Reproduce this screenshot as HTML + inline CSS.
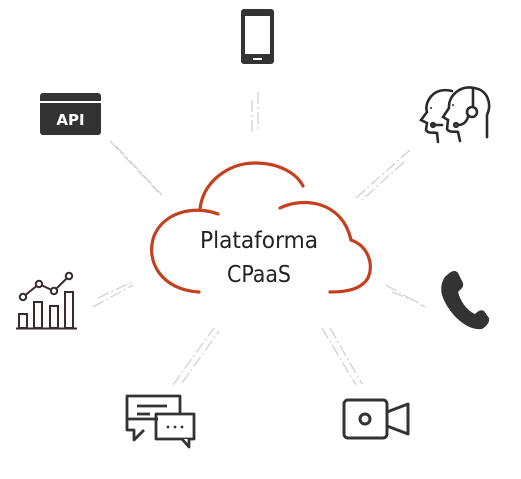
<!DOCTYPE html>
<html><head><meta charset="utf-8"><style>
html,body{margin:0;padding:0;background:#fff;}
svg{display:block;}
</style></head><body>
<svg width="521" height="479" viewBox="0 0 521 479" xmlns="http://www.w3.org/2000/svg">
<g stroke="#d2d2d2" stroke-width="1.3" fill="none" stroke-dasharray="12,3,2,3">
 <line x1="252" y1="100" x2="252" y2="135"/><line x1="258" y1="92" x2="258" y2="132"/>
 <line x1="110" y1="141" x2="158" y2="192"/><line x1="116" y1="146" x2="162" y2="195"/>
 <line x1="410" y1="150" x2="356" y2="198"/><line x1="404" y1="162" x2="362" y2="200"/>
 <line x1="93" y1="307" x2="133" y2="285"/><line x1="98" y1="298" x2="132" y2="282"/>
 <line x1="386" y1="285" x2="425" y2="307"/><line x1="392" y1="292" x2="418" y2="302"/>
 <line x1="173" y1="385" x2="214" y2="328"/><line x1="182" y1="383" x2="219" y2="331"/>
 <line x1="322" y1="328" x2="356" y2="385"/><line x1="330" y1="328" x2="362" y2="384"/>
</g>
<g stroke="#c4401f" stroke-width="3.2" fill="none" stroke-linecap="round">
 <path d="M199,292 C162,290 145,262 154,236 C164,212 194,205 218,214"/>
 <path d="M200,209 C203,182 228,163 255,163 C280,163 297,174 303,186"/>
 <path d="M280,208 C302,197 342,200 351,240 C368,246 374,264 368,278 C362,288 350,292 330,292"/>
</g>
<g font-family="'DejaVu Sans Condensed','Liberation Sans',sans-serif" font-size="23" fill="#222" font-weight="300" text-anchor="middle">
 <text x="259" y="248" textLength="118" lengthAdjust="spacingAndGlyphs">Plataforma</text>
 <text x="259" y="282" textLength="64" lengthAdjust="spacingAndGlyphs">CPaaS</text>
</g>
<!-- mobile -->
<rect x="241" y="9" width="33" height="55" rx="3" fill="#333"/>
<rect x="245" y="16" width="25" height="38" fill="#fff"/>
<rect x="253" y="58" width="9" height="2" fill="#fff"/>
<!-- API -->
<rect x="40" y="93" width="61" height="42" rx="3" fill="#333"/>
<rect x="40" y="101" width="61" height="2" fill="#fff"/>
<text x="70.5" y="125" font-family="'DejaVu Sans','Liberation Sans',sans-serif" font-weight="bold" font-size="15" fill="#fff" text-anchor="middle">API</text>
<!-- headset people -->
<g stroke="#2b2b2b" stroke-width="2.6" fill="none" stroke-linecap="round">
 <path d="M452,91 C432,86 424,104 427,112 L421,120 L427,123 L426,130 C428,134 434,132 437,133 L438,142"/>
 <path d="M474,88 C460,85 448,96 449,108 L443,117 L448,120 L447,129 C449,133 455,131 458,132 L460,141"/>
 <path d="M474,88 C488,90 492,104 487,115 L487,137"/>
 <line x1="473" y1="88" x2="473" y2="106"/>
 <circle cx="472" cy="112" r="5"/>
 <path d="M468,117 C466,123 462,125 458,125"/>
 <circle cx="456" cy="125" r="1.8"/>
 <path d="M442,125 L434,125"/><circle cx="433" cy="125" r="1.8"/>
</g>
<circle cx="431" cy="108" r="1" fill="#2b2b2b"/><circle cx="453" cy="105" r="1" fill="#2b2b2b"/>
<!-- chart -->
<g stroke="#3a2a2a" stroke-width="2" fill="none">
 <line x1="16" y1="328.5" x2="77" y2="328.5"/>
 <rect x="19" y="314" width="8" height="14"/><rect x="34" y="302" width="8" height="26"/>
 <rect x="50" y="306" width="8" height="22"/><rect x="65" y="292" width="8" height="36"/>
 <polyline points="23,297 39,284 54,291 69,276"/>
 <circle cx="23" cy="297" r="3.2" fill="#fff"/><circle cx="39" cy="284" r="3.2" fill="#fff"/>
 <circle cx="54" cy="291" r="3.2" fill="#fff"/><circle cx="69" cy="276" r="3.2" fill="#fff"/>
</g>
<!-- handset -->
<path d="M447,275 C452,270 456,270 458,273 L463,283 C464,287 461,289 458,292 C461,303 468,311 475,314 C478,311 481,309 484,311 L489,318 C490,322 487,326 482,329 C466,331 448,313 442,295 C440,287 442,279 447,275 Z" fill="#333"/>
<!-- chat -->
<g stroke="#333" stroke-width="2.8" fill="none" stroke-linejoin="round">
 <path d="M158,419 L127,419 L127,396 L180,396 L180,413"/>
 <path d="M127,419 L127,430 L134,430 L134,440 L144,430"/>
 <line x1="137" y1="406" x2="167" y2="406"/><line x1="137" y1="414" x2="150" y2="414"/>
 <rect x="156" y="414" width="38" height="25"/>
 <path d="M182,439 L189,447 L189,439" fill="#fff"/>
</g>
<g fill="#333"><circle cx="168" cy="427" r="1.4"/><circle cx="175" cy="427" r="1.4"/><circle cx="182" cy="427" r="1.4"/></g>
<!-- video -->
<g stroke="#333" stroke-width="3" fill="none" stroke-linejoin="round">
 <rect x="344" y="400" width="43" height="38" rx="4"/>
 <circle cx="365" cy="419" r="5"/>
 <path d="M387,412 L408,404 L408,434 L387,426"/>
</g>
</svg>
</body></html>
